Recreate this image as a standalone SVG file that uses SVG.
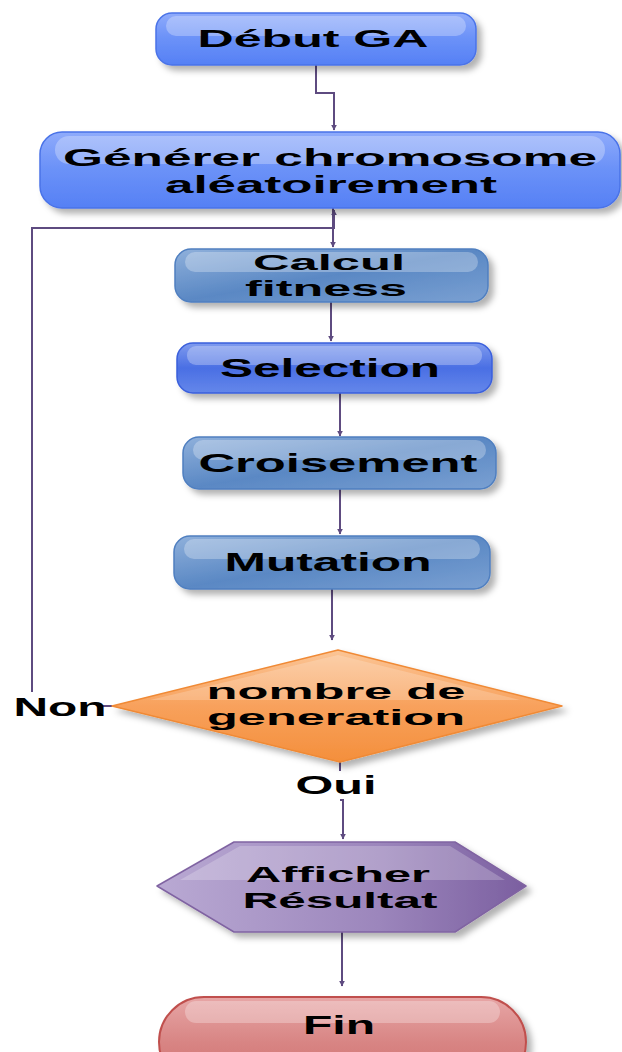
<svg xmlns="http://www.w3.org/2000/svg" width="622" height="1052" viewBox="0 0 622 1052">
<defs>
<style>
text{font-family:"Liberation Sans",Arial,sans-serif;font-weight:bold;fill:#000;text-anchor:middle}
.c{fill:none;stroke:#5e4b80;stroke-width:2}
.hl{fill:#fff;opacity:.28}
</style>
<filter id="sh" x="-10%" y="-20%" width="125%" height="150%">
<feDropShadow dx="5" dy="5" stdDeviation="3" flood-color="#000" flood-opacity="0.3"/>
</filter>
<marker id="ar" viewBox="0 0 10 10" refX="9" refY="5" markerWidth="6" markerHeight="6" orient="auto" markerUnits="userSpaceOnUse">
<path d="M0,0 L10,5 L0,10 z" fill="#5e4b80"/>
</marker>
<linearGradient id="gBlue" x1="0" y1="0" x2="0" y2="1">
<stop offset="0" stop-color="#8fabfb"/><stop offset="0.45" stop-color="#6d93f8"/><stop offset="1" stop-color="#5580f5"/>
</linearGradient>
<linearGradient id="gSteel" x1="0" y1="0" x2="1" y2="1">
<stop offset="0" stop-color="#8fb0db"/><stop offset="0.5" stop-color="#5a88c4"/><stop offset="1" stop-color="#7aa0d2"/>
</linearGradient>
<linearGradient id="gSel" x1="0" y1="0" x2="0" y2="1">
<stop offset="0" stop-color="#7f9bee"/><stop offset="0.5" stop-color="#4a6fe4"/><stop offset="1" stop-color="#6487ea"/>
</linearGradient>
<linearGradient id="gOr" x1="0" y1="0" x2="0" y2="1">
<stop offset="0" stop-color="#fbc596"/><stop offset="0.5" stop-color="#f8a15c"/><stop offset="1" stop-color="#f48f3c"/>
</linearGradient>
<linearGradient id="gPu" x1="0" y1="0" x2="1" y2="0">
<stop offset="0" stop-color="#b9a9d3"/><stop offset="0.6" stop-color="#9c86bc"/><stop offset="1" stop-color="#7b5fa0"/>
</linearGradient>
<linearGradient id="gRed" x1="0" y1="0" x2="0" y2="1">
<stop offset="0" stop-color="#e7a6a6"/><stop offset="0.5" stop-color="#d88584"/><stop offset="1" stop-color="#cf6f6e"/>
</linearGradient>
</defs>

<g id="connectors">
<path class="c" d="M316,65 V93 H334 V130" marker-end="url(#ar)"/>
<path class="c" d="M32,692 V228 H334 V210" marker-end="url(#ar)"/>
<path class="c" d="M333,208 V247" marker-end="url(#ar)"/>
<path class="c" d="M331,302 V341" marker-end="url(#ar)"/>
<path class="c" d="M340,393 V436" marker-end="url(#ar)"/>
<path class="c" d="M340,489 V534" marker-end="url(#ar)"/>
<path class="c" d="M332,589 V640" marker-end="url(#ar)"/>
<path class="c" d="M112,706 H98"/>
<path class="c" d="M340,762 V771"/>
<path class="c" d="M340,800 H343 V839" marker-end="url(#ar)"/>
<path class="c" d="M342,932 V986" marker-end="url(#ar)"/>
</g>

<g id="debut">
<rect x="156" y="13" width="320" height="52" rx="16" fill="url(#gBlue)" stroke="#4a73e8" stroke-width="1.5" filter="url(#sh)"/>
<rect x="166" y="16" width="300" height="20" rx="10" class="hl"/>
<text x="313" y="47" font-size="24" textLength="231" lengthAdjust="spacingAndGlyphs">Début GA</text>
</g>

<g id="generer">
<rect x="40" y="132" width="580" height="76" rx="22" fill="url(#gBlue)" stroke="#4a73e8" stroke-width="1.5" filter="url(#sh)"/>
<rect x="55" y="136" width="550" height="28" rx="14" class="hl"/>
<text x="330" y="166" font-size="23" textLength="534" lengthAdjust="spacingAndGlyphs">Générer chromosome</text>
<text x="331" y="193" font-size="23" textLength="332" lengthAdjust="spacingAndGlyphs">aléatoirement</text>
</g>

<g id="calcul">
<rect x="175" y="249" width="313" height="53" rx="16" fill="url(#gSteel)" stroke="#4f7fc0" stroke-width="1.5" filter="url(#sh)"/>
<rect x="185" y="252" width="293" height="20" rx="10" class="hl"/>
<text x="329" y="270" font-size="22" textLength="152" lengthAdjust="spacingAndGlyphs">Calcul</text>
<text x="326" y="296" font-size="22" textLength="162" lengthAdjust="spacingAndGlyphs">fitness</text>
</g>

<g id="selection">
<rect x="177" y="343" width="315" height="50" rx="16" fill="url(#gSel)" stroke="#3a5fdc" stroke-width="1.5" filter="url(#sh)"/>
<rect x="187" y="346" width="295" height="19" rx="9" class="hl"/>
<text x="330" y="377" font-size="25" textLength="220" lengthAdjust="spacingAndGlyphs">Selection</text>
</g>

<g id="croisement">
<rect x="183" y="437" width="313" height="52" rx="16" fill="url(#gSteel)" stroke="#4f7fc0" stroke-width="1.5" filter="url(#sh)"/>
<rect x="193" y="440" width="293" height="20" rx="10" class="hl"/>
<text x="338" y="472" font-size="25" textLength="279" lengthAdjust="spacingAndGlyphs">Croisement</text>
</g>

<g id="mutation">
<rect x="174" y="536" width="316" height="53" rx="16" fill="url(#gSteel)" stroke="#4f7fc0" stroke-width="1.5" filter="url(#sh)"/>
<rect x="184" y="539" width="296" height="20" rx="10" class="hl"/>
<text x="328" y="571" font-size="25" textLength="207" lengthAdjust="spacingAndGlyphs">Mutation</text>
</g>

<g id="decision">
<polygon points="112,706 338,650 562,706 340,762" fill="url(#gOr)" stroke="#f08a36" stroke-width="1.5" stroke-linejoin="round" filter="url(#sh)"/>
<polygon points="150,700 338,655 520,700" fill="#fff" opacity="0.2"/>
<text x="336" y="699" font-size="22" textLength="259" lengthAdjust="spacingAndGlyphs">nombre de</text>
<text x="336" y="725" font-size="22" textLength="258" lengthAdjust="spacingAndGlyphs">generation</text>
</g>

<g id="labels">
<text x="60" y="716" font-size="25" textLength="93" lengthAdjust="spacingAndGlyphs">Non</text>
<text x="336" y="794" font-size="25" textLength="81" lengthAdjust="spacingAndGlyphs">Oui</text>
</g>

<g id="afficher">
<polygon points="157,886 234,842 455,842 526,886 455,932 234,932" fill="url(#gPu)" stroke="#8064a2" stroke-width="1.5" stroke-linejoin="round" filter="url(#sh)"/>
<polygon points="180,880 240,846 450,846 505,880" fill="#fff" opacity="0.22"/>
<text x="338" y="882" font-size="22" textLength="184" lengthAdjust="spacingAndGlyphs">Afficher</text>
<text x="340" y="908" font-size="22" textLength="195" lengthAdjust="spacingAndGlyphs">Résultat</text>
</g>

<g id="fin">
<rect x="159" y="997" width="367" height="90" rx="45" fill="url(#gRed)" stroke="#c0504d" stroke-width="2" filter="url(#sh)"/>
<rect x="185" y="1001" width="315" height="22" rx="11" class="hl"/>
<text x="339" y="1034" font-size="25" textLength="72" lengthAdjust="spacingAndGlyphs">Fin</text>
</g>
</svg>
